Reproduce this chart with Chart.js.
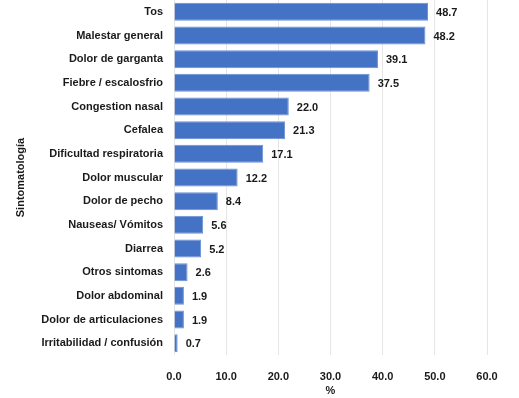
<!DOCTYPE html>
<html><head><meta charset="utf-8">
<script src="https://cdn.jsdelivr.net/npm/chart.js@4"></script>
<style>html,body{margin:0;padding:0;background:#fff}#w{width:519px;height:398px}</style>
</head><body><div id="w"><canvas id="c" width="519" height="398"></canvas></div>
<script>
const categories = ["Tos","Malestar general","Dolor de garganta","Fiebre / escalosfrio","Congestion nasal","Cefalea","Dificultad respiratoria","Dolor muscular","Dolor de pecho","Nauseas/ Vómitos","Diarrea","Otros sintomas","Dolor abdominal","Dolor de articulaciones","Irritabilidad / confusión"];
const values = [48.7,48.2,39.1,37.5,22.0,21.3,17.1,12.2,8.4,5.6,5.2,2.6,1.9,1.9,0.7];
const xTicks = [0,10,20,30,40,50,60];
const FONT = "'Liberation Sans', Arial, sans-serif";

const valueLabels = {
  id:'valueLabels',
  afterDatasetsDraw(chart){
    const ctx = chart.ctx;
    const meta = chart.getDatasetMeta(0);
    ctx.save();
    ctx.font = "bold 11px " + FONT;
    ctx.fillStyle = "#1a1a1a";
    ctx.textAlign = "left";
    ctx.textBaseline = "middle";
    meta.data.forEach((bar,i)=>{
      ctx.fillText(values[i].toFixed(1), bar.x + 8, bar.y + 1);
    });
    ctx.restore();
  }
};

new Chart(document.getElementById('c'), {
  type:'bar',
  data:{labels:categories, datasets:[{data:values, backgroundColor:'#4472C4', borderColor:'#6a8fd4', borderWidth:1, barPercentage:0.76, categoryPercentage:1}]},
  options:{
    indexAxis:'y', responsive:false, animation:false,
    layout:{padding:{left:0,right:32,top:0,bottom:0}},
    plugins:{legend:{display:false}, tooltip:{enabled:false}},
    scales:{
      x:{min:0,max:60,
        afterBuildTicks(s){ s.ticks = xTicks.map(v=>({value:v})); },
        afterFit(s){ s.height = 43; s.paddingLeft = 0; s.paddingRight = 0; },
        grid:{color:'#e6e6e6', drawTicks:false},
        border:{display:false},
        ticks:{padding:15, color:'#1a1a1a', font:{family:FONT, size:11, weight:'bold'}, callback:v=>Number(v).toFixed(1)},
        title:{display:true, text:'%', color:'#1a1a1a', font:{family:FONT,size:11,weight:'bold'}, padding:{top:0,bottom:0}}
      },
      y:{
        afterFit(s){ s.width = 174; s.paddingTop = 0; s.paddingBottom = 0; },
        grid:{display:false, drawTicks:false},
        border:{display:false},
        ticks:{padding:11, color:'#1a1a1a', font:{family:FONT, size:11, weight:'bold'}, autoSkip:false},
        title:{display:true, text:'Sintomatología', color:'#1a1a1a', font:{family:FONT,size:11,weight:'bold'}, padding:{top:14,bottom:0}}
      }
    }
  },
  plugins:[valueLabels]
});
</script></body></html>
